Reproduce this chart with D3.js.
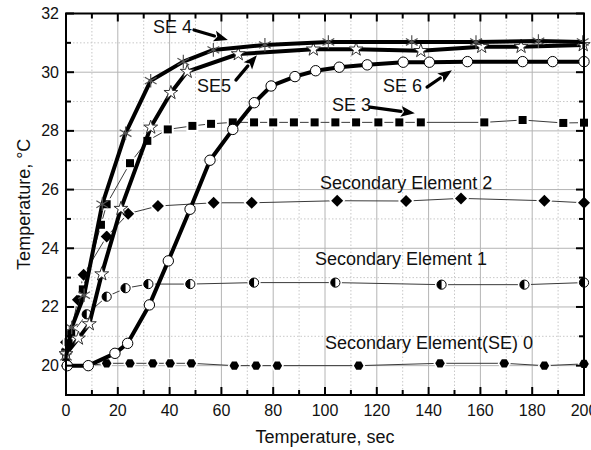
<!DOCTYPE html>
<html>
<head>
<meta charset="utf-8">
<script src="https://cdn.jsdelivr.net/npm/d3@7"></script>
<style>
  html, body { margin: 0; padding: 0; background: #fff; }
  svg { display: block; font-family: "Liberation Sans", Arial, sans-serif; }
</style>
</head>
<body>
<svg id="chart" width="591" height="450"></svg>
<script>
// ---- data (time in sec, temperature in °C) ----
const se0 = [[0,20.0],[8.6,20.0],[15.7,20.08],[24.7,20.08],[33.5,20.08],[40.2,20.08],[48.4,20.08],[65,20.0],[73.4,20.0],[81.6,20.0],[113,20.0],[144.4,20.08],[169.2,20.08],[184.7,20.0],[200,20.06]];
const se1 = [[0,20.5],[1.5,21.0],[8,21.75],[15.7,22.35],[23,22.64],[31.8,22.78],[48,22.78],[72.6,22.83],[104,22.83],[145,22.76],[177,22.76],[200,22.83]];
const se2 = [[0,20.8],[2,21.2],[4.6,22.25],[6.8,23.1],[15.7,24.4],[24,25.18],[35.5,25.44],[57,25.55],[71.7,25.55],[104.7,25.62],[131.3,25.61],[152.5,25.7],[184.7,25.62],[200,25.55]];
const se3 = [[0,20.3],[1,20.8],[2,21.1],[6.5,22.6],[13.5,24.8],[15.7,25.5],[24.7,26.9],[31.4,27.66],[39.3,28.05],[48.8,28.17],[56,28.24],[64.4,28.29],[72.6,28.29],[80,28.29],[88,28.29],[96,28.29],[104,28.29],[112,28.29],[120.6,28.29],[128.7,28.29],[137,28.29],[161.5,28.29],[176.3,28.37],[192,28.27],[200,28.28]];
const se4 = [[0,20.3],[2.2,21.3],[7,22.4],[14,25.5],[23,27.92],[32.7,29.71],[45.3,30.36],[56.9,30.76],[76.8,30.93],[101.3,31.03],[133.5,31.03],[158.3,31.03],[182.4,31.06],[199.5,31.03]];
const se5 = [[0,20.4],[4.8,20.93],[9,21.42],[13.8,23.12],[21.2,25.35],[32.7,28.12],[40.5,29.3],[46.8,30.02],[66.5,30.62],[95.5,30.78],[112,30.78],[137,30.73],[160.5,30.87],[175.7,30.87],[199.7,30.93]];
const se6 = [[0.5,20.0],[8.6,20.0],[18.9,20.42],[23.8,20.76],[32.2,22.07],[39.5,23.57],[47.9,25.33],[55.6,27.0],[64.4,28.05],[72.7,28.96],[79.2,29.53],[88.4,29.85],[96.4,30.05],[105.5,30.17],[116.3,30.25],[130.2,30.34],[140.3,30.34],[155,30.36],[176.3,30.36],[187.9,30.36],[200,30.36]];

const xTicks = [0,20,40,60,80,100,120,140,160,180,200];
const yTicks = [20,22,24,26,28,30,32];
const xTitle = "Temperature, sec";
const yTitle = "Temperature, °C";

// annotations: text anchor (data coords) and optional arrow (from -> to, data coords)
const labels = [
  {text:"SE 4", x:33.6, y:31.33, arrow:[[49.4,31.44],[62.5,31.10]]},
  {text:"SE5", x:50.6, y:29.32, arrow:[[65.6,29.73],[73.7,30.58]]},
  {text:"SE 6", x:122.4, y:29.32, arrow:[[139.4,29.49],[149,30.07]]},
  {text:"SE 3", x:102.7, y:28.68, arrow:[[117.4,28.81],[134.7,28.6]]},
  {text:"Secondary Element 2", x:98.1, y:26.02},
  {text:"Secondary Element 1", x:96.1, y:23.43},
  {text:"Secondary Element(SE) 0", x:100, y:20.57}
];

// ---- layout ----
const svg = d3.select("#chart");
const L = 66, R = 584, T = 13.5, B = 395;
const x = d3.scaleLinear().domain([0,200]).range([L,R]);
const y = d3.scaleLinear().domain([19,32]).range([B,T]);

// grid
const g = svg.append("g");
const xMinor = d3.range(10,200,20);
const yMinor = d3.range(19,32,1).filter(v => v % 2 === 1);
g.selectAll(".gxm").data(xMinor).join("line")
  .attr("x1", d=>x(d)).attr("x2", d=>x(d)).attr("y1", T).attr("y2", B)
  .attr("stroke","#c8c8c8").attr("stroke-width",1).attr("stroke-dasharray","1.5,2");
g.selectAll(".gym").data(yMinor).join("line")
  .attr("y1", d=>y(d)).attr("y2", d=>y(d)).attr("x1", L).attr("x2", R)
  .attr("stroke","#c8c8c8").attr("stroke-width",1).attr("stroke-dasharray","1.5,2");
g.selectAll(".gx").data(xTicks.slice(1,-1)).join("line")
  .attr("x1", d=>x(d)).attr("x2", d=>x(d)).attr("y1", T).attr("y2", B)
  .attr("stroke","#b4b4b4").attr("stroke-width",1);
g.selectAll(".gy").data(yTicks.slice(0,-1)).join("line")
  .attr("y1", d=>y(d)).attr("y2", d=>y(d)).attr("x1", L).attr("x2", R)
  .attr("stroke","#b4b4b4").attr("stroke-width",1);

const line = d3.line().x(d=>x(d[0])).y(d=>y(d[1]));
const plot = svg.append("g");

// custom symbols
const hexagon = { draw(ctx, size){ const r = Math.sqrt(size/2.598); for(let i=0;i<6;i++){ const a = Math.PI/3*i; const px=r*Math.cos(a), py=r*Math.sin(a); if(i===0) ctx.moveTo(px,py); else ctx.lineTo(px,py);} ctx.closePath(); } };
const diamondSq = { draw(ctx, size){ const r = Math.sqrt(size/2); ctx.moveTo(0,-r); ctx.lineTo(r,0); ctx.lineTo(0,r); ctx.lineTo(-r,0); ctx.closePath(); } };

function thinSeries(data){
  plot.append("path").datum(data).attr("d", line)
    .attr("fill","none").attr("stroke","#3a3a3a").attr("stroke-width",1);
}
function thickSeries(data){
  plot.append("path").datum(data).attr("d", line)
    .attr("fill","none").attr("stroke","#000").attr("stroke-width",4)
    .attr("stroke-linejoin","round");
}

// SE0 hexagons
thinSeries(se0);
plot.append("g").selectAll("path").data(se0).join("path")
  .attr("transform", d=>`translate(${x(d[0])},${y(d[1])})`)
  .attr("d", d3.symbol().type(hexagon).size(60))
  .attr("fill","#000").attr("stroke","#fff").attr("stroke-width",3).style("paint-order","stroke");

// SE1 half-filled circles
thinSeries(se1);
const s1 = plot.append("g").selectAll("g").data(se1).join("g")
  .attr("transform", d=>`translate(${x(d[0])},${y(d[1])})`);
s1.append("circle").attr("r",4.6).attr("fill","#fff").attr("stroke","#fff").attr("stroke-width",4);
s1.append("circle").attr("r",4.6).attr("fill","#fff").attr("stroke","#000").attr("stroke-width",1);
s1.append("path").attr("d", d3.arc()({innerRadius:0, outerRadius:4.6, startAngle:Math.PI, endAngle:2*Math.PI})).attr("fill","#000");

// SE2 diamonds
thinSeries(se2);
plot.append("g").selectAll("path").data(se2).join("path")
  .attr("transform", d=>`translate(${x(d[0])},${y(d[1])})`)
  .attr("d", d3.symbol().type(diamondSq).size(72))
  .attr("fill","#000").attr("stroke","#fff").attr("stroke-width",3).style("paint-order","stroke");

// SE3 squares
thinSeries(se3);
plot.append("g").selectAll("path").data(se3).join("path")
  .attr("transform", d=>`translate(${x(d[0])},${y(d[1])})`)
  .attr("d", d3.symbol().type(d3.symbolSquare).size(64))
  .attr("fill","#000").attr("stroke","#fff").attr("stroke-width",4).style("paint-order","stroke");

// SE6 open circles
thickSeries(se6);
plot.append("g").selectAll("circle").data(se6).join("circle")
  .attr("cx", d=>x(d[0])).attr("cy", d=>y(d[1])).attr("r",5.2)
  .attr("fill","#fff").attr("stroke","#000").attr("stroke-width",1);

// SE5 open stars
thickSeries(se5);
plot.append("g").selectAll("path").data(se5).join("path")
  .attr("transform", d=>`translate(${x(d[0])},${y(d[1])})`)
  .attr("d", d3.symbol().type(d3.symbolStar).size(60))
  .attr("fill","#fff").attr("stroke","#333").attr("stroke-width",1);

// SE4 asterisks
thickSeries(se4);
plot.append("g").selectAll("path").data(se4).join("path")
  .attr("transform", d=>`translate(${x(d[0])},${y(d[1])})`)
  .attr("d", d3.symbol().type(d3.symbolAsterisk).size(130))
  .attr("fill","none").attr("stroke","#555").attr("stroke-width",1.2);

// annotations
const ann = svg.append("g");
labels.forEach(l => {
  ann.append("text").attr("x", x(l.x)).attr("y", y(l.y))
    .attr("font-size",18).attr("fill","#111").text(l.text);
  if (l.arrow) {
    const [p0,p1] = l.arrow;
    const x0=x(p0[0]), y0=y(p0[1]), x1=x(p1[0]), y1=y(p1[1]);
    const ang = Math.atan2(y1-y0, x1-x0);
    const hl = 14, hw = 5.5;
    const bx = x1 - hl*Math.cos(ang), by = y1 - hl*Math.sin(ang);
    ann.append("line").attr("x1",x0).attr("y1",y0).attr("x2",bx).attr("y2",by)
      .attr("stroke","#000").attr("stroke-width",3.2).attr("stroke-linecap","round");
    const nx = -Math.sin(ang), ny = Math.cos(ang);
    ann.append("path").attr("d", `M${x1},${y1}L${bx+nx*hw},${by+ny*hw}L${bx+3*Math.cos(ang)},${by+3*Math.sin(ang)}L${bx-nx*hw},${by-ny*hw}Z`)
      .attr("fill","#000");
  }
});

// axes frame and ticks
const ax = svg.append("g");
ax.append("rect").attr("x",L).attr("y",T).attr("width",R-L).attr("height",B-T)
  .attr("fill","none").attr("stroke","#000").attr("stroke-width",2);
const xAll = d3.range(0,201,10), yAll = d3.range(19,33,1);
ax.selectAll(".xtb").data(xAll).join("line")
  .attr("x1",d=>x(d)).attr("x2",d=>x(d)).attr("y1",B).attr("y2",d=> B - (d%20===0?8:5))
  .attr("stroke","#000").attr("stroke-width",2);
ax.selectAll(".xtt").data(xAll).join("line")
  .attr("x1",d=>x(d)).attr("x2",d=>x(d)).attr("y1",T).attr("y2",d=> T + (d%20===0?8:5))
  .attr("stroke","#000").attr("stroke-width",2);
ax.selectAll(".ytl").data(yAll).join("line")
  .attr("y1",d=>y(d)).attr("y2",d=>y(d)).attr("x1",L).attr("x2",d=> L + (d%2===0?8:5))
  .attr("stroke","#000").attr("stroke-width",2);
ax.selectAll(".ytr").data(yAll).join("line")
  .attr("y1",d=>y(d)).attr("y2",d=>y(d)).attr("x1",R).attr("x2",d=> R - (d%2===0?8:5))
  .attr("stroke","#000").attr("stroke-width",2);

ax.selectAll(".xl").data(xTicks).join("text")
  .attr("x", d=>x(d)).attr("y", B+21).attr("text-anchor","middle")
  .attr("font-size",16).attr("fill","#111").text(d=>d);
ax.selectAll(".yl").data(yTicks).join("text")
  .attr("x", L-7).attr("y", d=>y(d)+5.5).attr("text-anchor","end")
  .attr("font-size",16).attr("fill","#111").text(d=>d);

svg.append("text").attr("x",(L+R)/2).attr("y",443).attr("text-anchor","middle")
  .attr("font-size",18).attr("fill","#111").text(xTitle);
svg.append("text").attr("transform",`translate(30,${(T+B)/2}) rotate(-90)`)
  .attr("text-anchor","middle").attr("font-size",18).attr("fill","#111").text(yTitle);
</script>
</body>
</html>
